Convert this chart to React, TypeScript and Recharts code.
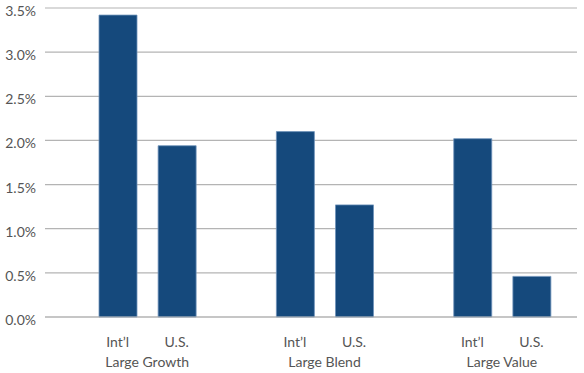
import React from 'react';
import { BarChart, Bar, XAxis, YAxis, CartesianGrid } from 'recharts';

const barLabels = ["Int\u2019l", "U.S.", "", "Int\u2019l", "U.S.", "", "Int\u2019l", "U.S."];
const groupLabels = ["Large Growth", "", "", "Large Blend", "", "", "Large Value", ""];
const values = [3.42, 1.94, null, 2.10, 1.27, null, 2.02, 0.46];
const yTicks = [0, 0.5, 1.0, 1.5, 2.0, 2.5, 3.0, 3.5];

const data = barLabels.map((label, i) => ({
  key: `c${i}`,
  label,
  group: groupLabels[i],
  value: values[i],
}));

const FONT = 'Lato, "Open Sans", sans-serif';
const TEXT = '#555';

const XTick = (props: any) => {
  const { x, y, payload, index } = props;
  const d = data[index] || data.find((e) => e.key === payload.value);
  if (!d) return null;
  return (
    <g>
      <text x={x} y={y + 22} textAnchor="middle" fontFamily={FONT} fontSize={14} fill={TEXT}>
        {d.label}
      </text>
      {d.group ? (
        <text x={x + 29.6} y={y + 42} textAnchor="middle" fontFamily={FONT} fontSize={14} fill={TEXT}>
          {d.group}
        </text>
      ) : null}
    </g>
  );
};

const YTick = (props: any) => {
  const { x, y, payload } = props;
  return (
    <text x={x} y={y + 8} textAnchor="end" fontFamily={FONT} fontSize={14} fill={TEXT}>
      {`${Number(payload.value).toFixed(1)}%`}
    </text>
  );
};

export default function App() {
  return (
    <div style={{ position: 'absolute', left: 0, top: 0, background: '#fff' }}>
      <BarChart
        width={584}
        height={373}
        data={data}
        margin={{ top: 8, right: 7, bottom: 0, left: 0 }}
        barCategoryGap={0}
      >
        <CartesianGrid vertical={false} stroke="#b4b4b4" strokeWidth={1.2} />
        <XAxis
          dataKey="key"
          tick={<XTick />}
          tickLine={false}
          axisLine={{ stroke: '#b4b4b4', strokeWidth: 1.2 }}
          height={56}
          interval={0}
          padding={{ left: 43, right: 16 }}
        />
        <YAxis
          width={45}
          domain={[0, 3.5]}
          ticks={yTicks}
          axisLine={false}
          tickLine={false}
          tickSize={0}
          tickMargin={9}
          tick={<YTick />}
          interval={0}
        />
        <Bar
          dataKey="value"
          fill="#15497c"
          stroke="#6f93ba"
          strokeWidth={0.8}
          barSize={38}
          isAnimationActive={false}
        />
      </BarChart>
    </div>
  );
}
